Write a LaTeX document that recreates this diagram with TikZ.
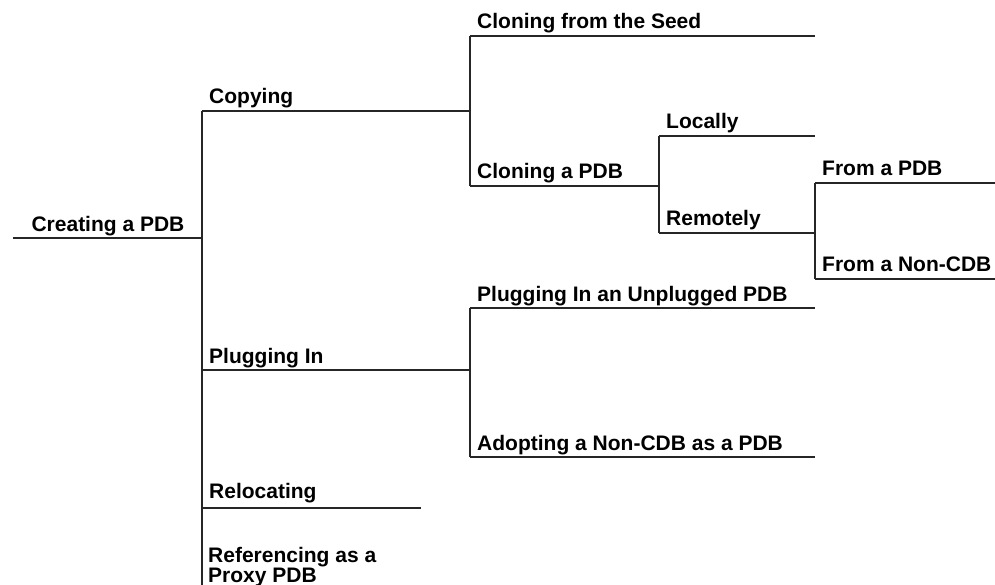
\documentclass[tikz,border=0pt]{standalone}
\usepackage{fontspec}
\setmainfont{Liberation Sans}
\begin{document}
\begin{tikzpicture}[x=1pt, y=-1pt, line join=round,
                    every node/.style={font=\fontsize{21}{17}\selectfont\bfseries, inner sep=0pt},
                    branch/.style={line width=1.2pt, black!85},
                    lbl/.style={anchor=base west}]

  \useasboundingbox (0,0) rectangle (995,585);

  %--- columns (x of each level) ---
  \def\xa{13}    % start of the root line
  \def\xb{202}   % level 1
  \def\xc{470}   % level 2
  \def\xd{659}   % level 3
  \def\xe{815}   % level 4
  \def\xf{995}   % right edge
  \def\dx{7}     % text indent from the line start
  \def\dy{7}     % baseline above the line

  %--- root ---
  \coordinate (root-l) at (\xa,238);
  \coordinate (root-r) at (\xb,238);
  \node[anchor=base] (root) at (108,232) {Creating a PDB};
  \draw[branch] (root-l) -- (root-r);

  %--- level 1 ---
  \coordinate (copy-l)  at (\xb,111);  \coordinate (copy-r)  at (\xc,111);
  \coordinate (plug-l)  at (\xb,370);  \coordinate (plug-r)  at (\xc,370);
  \coordinate (reloc-l) at (\xb,508);  \coordinate (reloc-r) at (421,508);
  \coordinate (trunk-end) at (\xb,585);

  \node[lbl] (copy)  at ([shift={(\dx,-\dy)}]copy-l)  {Copying};
  \node[lbl] (plug)  at ([shift={(\dx,-\dy)}]plug-l)  {Plugging In};
  \node[lbl] (reloc) at ([shift={(\dx,-10)}]reloc-l) {Relocating};
  \node[lbl, align=left] (proxy) at (208,582) {Referencing as a\\Proxy PDB};

  \draw[branch] (copy-l) -- (copy-r);
  \draw[branch] (plug-l) -- (plug-r);
  \draw[branch] (reloc-l) -- (reloc-r);
  \draw[branch] (copy-l) -- (trunk-end);

  %--- level 2: copying ---
  \coordinate (seed-l)  at (\xc,36);   \coordinate (seed-r)  at (\xe,36);
  \coordinate (clone-l) at (\xc,186);  \coordinate (clone-r) at (\xd,186);

  \node[lbl] (seed)  at ([shift={(\dx,-\dy)}]seed-l)  {Cloning from the Seed};
  \node[lbl] (clone) at ([shift={(\dx,-\dy)}]clone-l) {Cloning a PDB};

  \draw[branch] (seed-l) -- (seed-r);
  \draw[branch] (clone-l) -- (clone-r);
  \draw[branch] (seed-l) -- (clone-l);

  %--- level 3: cloning a PDB ---
  \coordinate (local-l)  at (\xd,136);  \coordinate (local-r)  at (\xe,136);
  \coordinate (remote-l) at (\xd,233);  \coordinate (remote-r) at (\xe,233);

  \node[lbl] (local)  at ([shift={(\dx,-\dy)}]local-l)  {Locally};
  \node[lbl] (remote) at ([shift={(\dx,-\dy)}]remote-l) {Remotely};

  \draw[branch] (local-l) -- (local-r);
  \draw[branch] (remote-l) -- (remote-r);
  \draw[branch] (local-l) -- (remote-l);

  %--- level 4: remotely ---
  \coordinate (frompdb-l) at (\xe,183);  \coordinate (frompdb-r) at (\xf,183);
  \coordinate (fromnon-l) at (\xe,279);  \coordinate (fromnon-r) at (\xf,279);

  \node[lbl] (frompdb) at ([shift={(\dx,-\dy)}]frompdb-l) {From a PDB};
  \node[lbl] (fromnon) at ([shift={(\dx,-\dy)}]fromnon-l) {From a Non-CDB};

  \draw[branch] (frompdb-l) -- (frompdb-r);
  \draw[branch] (fromnon-l) -- (fromnon-r);
  \draw[branch] (frompdb-l) -- (fromnon-l);

  %--- level 2: plugging in ---
  \coordinate (unplug-l) at (\xc,308);  \coordinate (unplug-r) at (\xe,308);
  \coordinate (adopt-l)  at (\xc,457);  \coordinate (adopt-r)  at (\xe,457);

  \node[lbl] (unplug) at ([shift={(\dx,-\dy)}]unplug-l) {Plugging In an Unplugged PDB};
  \node[lbl] (adopt)  at ([shift={(\dx,-\dy)}]adopt-l)  {Adopting a Non-CDB as a PDB};

  \draw[branch] (unplug-l) -- (unplug-r);
  \draw[branch] (adopt-l) -- (adopt-r);
  \draw[branch] (unplug-l) -- (adopt-l);

\end{tikzpicture}
\end{document}
